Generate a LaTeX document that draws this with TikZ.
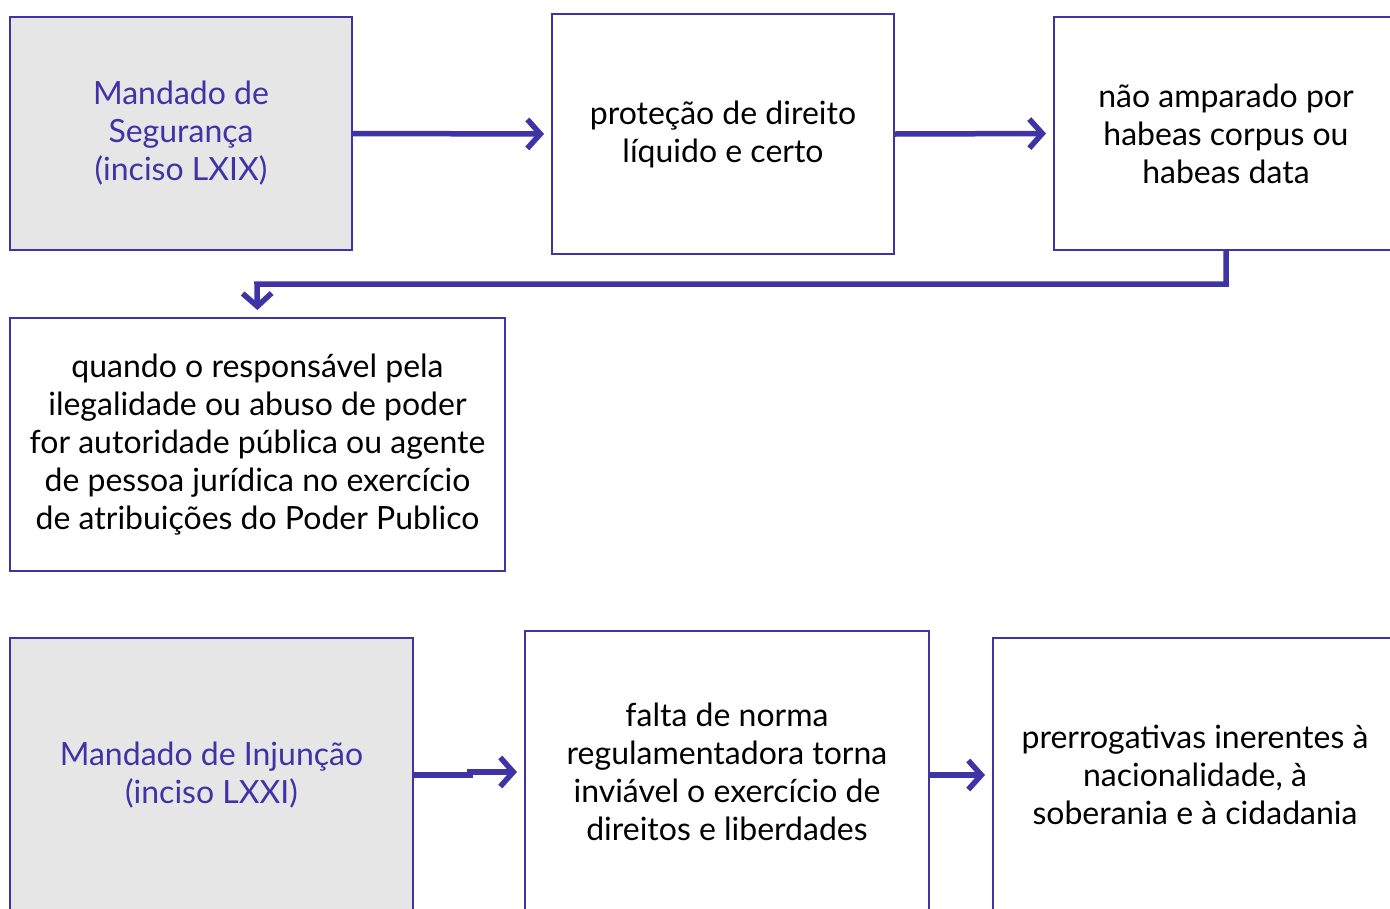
\documentclass[tikz,border=0pt]{standalone}
\usepackage{fontspec}
\setmainfont{Lato}
\usetikzlibrary{arrows.meta}
\definecolor{pur}{HTML}{3F33A6}
\definecolor{gfill}{HTML}{E6E6E6}
\tikzset{
  box/.style={draw=pur, line width=2pt, rectangle, align=center, inner sep=0pt,
    font=\fontsize{32}{38}\selectfont, text=black},
  gbox/.style={box, fill=gfill, text=pur},
  conn/.style={draw=pur, line width=5.5pt, -{Straight Barb[length=13pt,width=29pt,line width=5.5pt]}, shorten >=7pt},
}
\begin{document}
\begin{tikzpicture}[x=1pt,y=-1pt]
\useasboundingbox (0,0) rectangle (1390,908);
\clip (0,0) rectangle (1390,908);
\node[gbox, minimum width=342pt, minimum height=233pt] (b1) at (181,133.5) {Mandado de\\Segurança\\(inciso LXIX)};
\node[box, minimum width=342pt, minimum height=240pt] (b2) at (723,134) {proteção de direito\\líquido e certo};
\node[box, minimum width=344pt, minimum height=233pt] (b3) at (1226,133.5) {não amparado por\\habeas corpus ou\\habeas data};
\node[box, minimum width=495pt, minimum height=253pt] (b4) at (257.5,444.5) {quando o responsável pela\\ilegalidade ou abuso de poder\\for autoridade pública ou agente\\de pessoa jurídica no exercício\\de atribuições do Poder Publico};
\node[gbox, minimum width=403pt, minimum height=274pt] (b5) at (211.5,775) {Mandado de Injunção\\(inciso LXXI)};
\node[box, minimum width=404pt, minimum height=282pt] (b6) at (727,772) {falta de norma\\regulamentadora torna\\inviável o exercício de\\direitos e liberdades};
\node[box, minimum width=404pt, minimum height=274pt] (b7) at (1195,775) {prerrogativas inerentes à\\nacionalidade, à\\soberania e à cidadania};
\coordinate (j1) at (1226,284);
\coordinate (j2) at (257,284);
\draw[conn] (b1.east) -- (b2.west);
\draw[conn] (b2.east) -- (b3.west);
\draw[conn] (b3.south) -- (j1) -- (j2) -- (b4.north);
\coordinate (k1) at (470,775);
\coordinate (k2) at (470,772);
\draw[conn] (b5.east) -- (k1) -- (k2) -- (b6.west);
\draw[conn] (b6.east |- b7.west) -- (b7.west);
\end{tikzpicture}
\end{document}
